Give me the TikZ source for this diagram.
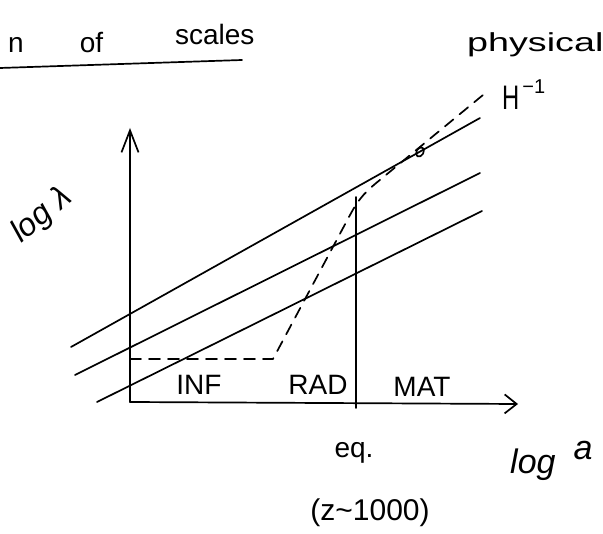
\documentclass[tikz,border=0pt]{standalone}
\usepackage{fontspec}
\setmainfont{Liberation Sans}
\usetikzlibrary{arrows.meta}
\begin{document}
\begin{tikzpicture}[x=1pt,y=-1pt,
  ink/.style={line width=1.7pt, line cap=round, line join=round},
  dashline/.style={ink, dash pattern=on 11pt off 8pt},
  lbl/.style={inner sep=0pt, font=\fontsize{28}{30}\selectfont},
  hand/.style={inner sep=0pt, font=\fontsize{32}{34}\selectfont\itshape}]
\fill[white] (0,0) rectangle (603,534);
\useasboundingbox (0,0) rectangle (603,534);

% axes
\coordinate (O) at (130,402);
\coordinate (Ytop) at (130,128);
\coordinate (Xend) at (518,404);
\draw[ink, -{Straight Barb[length=22pt,width=17pt]}] (O) -- (Ytop);
\draw[ink, -{Straight Barb[length=12pt,width=19pt]}] (O) -- (Xend);

% equality line
\coordinate (EqTop) at (356,197);
\coordinate (EqBot) at (356,408);
\draw[ink] (EqTop) -- (EqBot);

% physical scales
\coordinate (L1a) at (71,347);  \coordinate (L1b) at (480,118);
\coordinate (L2a) at (75,375);  \coordinate (L2b) at (480,173);
\coordinate (L3a) at (97,402);  \coordinate (L3b) at (482,211);
\draw[ink] (L1a) -- (L1b);
\draw[ink] (L2a) -- (L2b);
\draw[ink] (L3a) -- (L3b);

% Hubble radius (dashed)
\coordinate (D0) at (130,359);
\coordinate (D1) at (273,359);
\coordinate (D2) at (350,215);
\coordinate (D3) at (375,184);
\coordinate (D4) at (483,95);
\draw[dashline] (D0) -- (D1) -- (D2) .. controls (357,202) and (363,194) .. (D3) -- (D4);

% crossing marker
\coordinate (M) at (420,152);
\draw[ink, rotate around={-30:(M)}] (M) ellipse [x radius=3.5pt, y radius=5pt];

% title
\node[inner sep=0pt, anchor=base west, font=\fontsize{28}{30}\selectfont] (title) at (8,53)
  {n\hspace{56pt}of\hspace{72pt}\raisebox{8pt}{scales}};
\coordinate (ULa) at (0,68);
\coordinate (ULb) at (242,60);
\draw[ink] (ULa) -- (ULb);

\node[inner sep=0pt, anchor=base west, font=\fontsize{26}{28}\selectfont] (phys) at (467,52)
  {\scalebox{1.45}[1]{physical}};

\node[inner sep=0pt, anchor=base west, font=\fontsize{34}{36}\selectfont] (H) at (502,110)
  {\scalebox{0.7}[1]{H}\hspace{3pt}\raisebox{16pt}{\fontsize{20}{20}\selectfont −1}};

% axis labels
\node[hand, rotate=40] (ylab) at (42,216) {log λ};
\node[hand, anchor=base west, font=\fontsize{34}{36}\selectfont\itshape] (xlab) at (510,474)
  {log\hspace{18pt}\raisebox{14pt}{a}};

% eras
\node[lbl] (inf) at (199,385) {INF};
\node[lbl] (rad) at (318,385) {RAD};
\node[lbl] (mat) at (422,387) {MAT};

% equality
\node[lbl, anchor=base] (eq) at (354,458) {eq.};
\node[lbl, font=\fontsize{30}{32}\selectfont] (zeq) at (370,513) {(z\textasciitilde1000)};
\end{tikzpicture}
\end{document}
